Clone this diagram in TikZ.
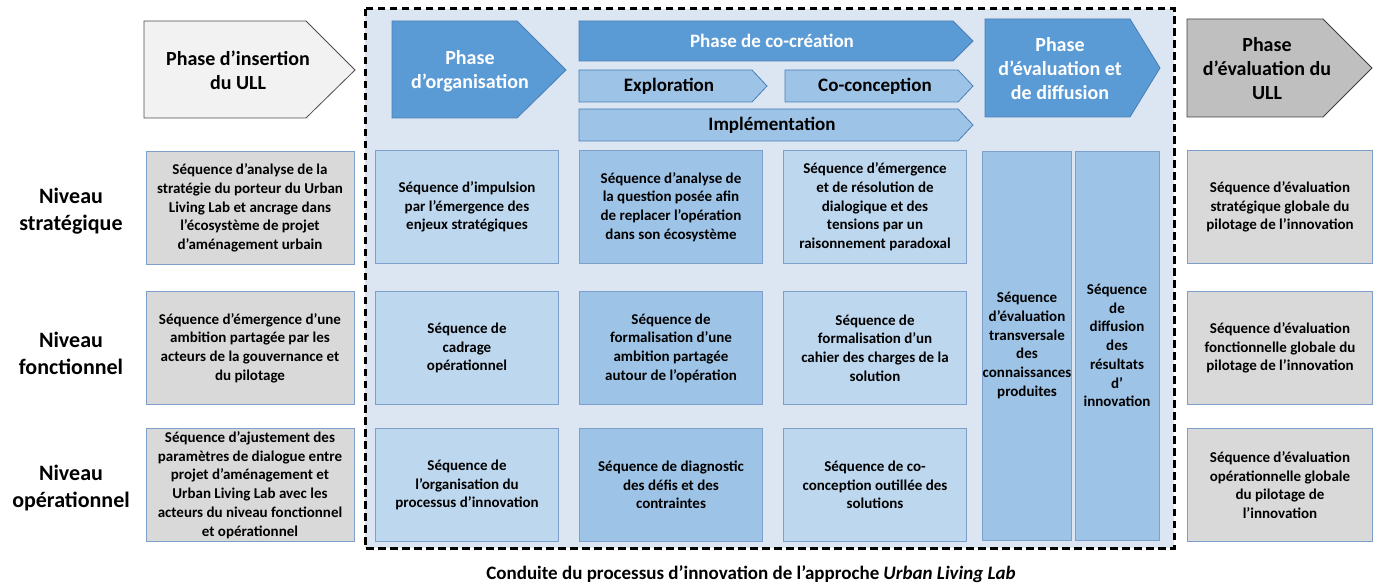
\documentclass[tikz,border=0pt]{standalone}
\usepackage{fontspec}
\setmainfont{Carlito}

\definecolor{phaseblue}{HTML}{5B9BD5}
\definecolor{phaseline}{HTML}{4A7EB5}
\definecolor{stageblue}{HTML}{9DC3E6}
\definecolor{seqlight}{HTML}{BDD7EE}
\definecolor{boxline}{HTML}{7F9FCB}
\definecolor{frameblue}{HTML}{DCE6F2}
\definecolor{ullgray}{HTML}{D9D9D9}
\definecolor{ullarrow}{HTML}{BFBFBF}
\definecolor{insertgray}{HTML}{F2F2F2}

\begin{document}
\begin{tikzpicture}[x=1pt,y=-1pt]
        \tikzset{
            seqbox/.style={draw=boxline,line width=0.8pt,fill=seqlight,align=center,inner sep=0pt,
                minimum width=183pt,minimum height=113pt,font=\bfseries\fontsize{15}{18.7}\selectfont},
            seqmid/.style={seqbox,fill=stageblue},
            tallbox/.style={seqbox,fill=stageblue,minimum width=84pt,minimum height=389pt},
            ullbox/.style={seqbox,fill=ullgray},
            niveau/.style={align=center,font=\bfseries\fontsize{22}{27}\selectfont},
            phasetext/.style={align=center,font=\bfseries\fontsize{20}{24}\selectfont},
            stagetext/.style={font=\bfseries\fontsize{19}{22}\selectfont}
        }
        \useasboundingbox (0,0) rectangle (1377,585);

        % cadre pointille de l'approche
        \draw[fill=frameblue,line width=3pt,dash pattern=on 7.5pt off 4.5pt] (365,9) rectangle (1174,548);

        % fleches de phases
        \draw[fill=insertgray,draw=black!70,line width=0.8pt]
            (144,21) -- (306,21) -- (355,70) -- (306,118) -- (144,118) -- cycle;
        \node[phasetext] (insertion) at (238,70) {Phase d’insertion\\du ULL};

        \draw[fill=phaseblue,draw=phaseline,line width=0.8pt]
            (392,21) -- (517,21) -- (566,70) -- (517,118) -- (392,118) -- cycle;
        \node[phasetext,text=white] (organisation) at (470,71) {Phase\\d’organisation};

        \draw[fill=phaseblue,draw=phaseline,line width=0.8pt]
            (579,21) -- (953,21) -- (973,41) -- (953,61) -- (579,61) -- cycle;
        \node[stagetext,text=white] (cocreation) at (772,41) {Phase de co-création};

        \draw[fill=stageblue,draw=phaseline,line width=0.8pt]
            (579,70) -- (752,70) -- (767,86) -- (752,102) -- (579,102) -- cycle;
        \node[stagetext] (exploration) at (669,86) {Exploration};

        \draw[fill=stageblue,draw=phaseline,line width=0.8pt]
            (785,70) -- (958,70) -- (973,86) -- (958,102) -- (785,102) -- cycle;
        \node[stagetext] (coconception) at (875,86) {Co-conception};

        \draw[fill=stageblue,draw=phaseline,line width=0.8pt]
            (579,109) -- (958,109) -- (973,125) -- (958,141) -- (579,141) -- cycle;
        \node[stagetext] (implementation) at (772,125) {Implémentation};

        \draw[fill=phaseblue,draw=phaseline,line width=0.8pt]
            (985,19) -- (1130,19) -- (1160,68) -- (1130,117) -- (985,117) -- cycle;
        \node[phasetext,text=white] (evaldiffusion) at (1060,69) {Phase\\d’évaluation et\\de diffusion};

        \draw[fill=ullarrow,draw=black!75,line width=0.8pt]
            (1187,19) -- (1323,19) -- (1372,68) -- (1323,117) -- (1187,117) -- cycle;
        \node[phasetext] (evalull) at (1267,69) {Phase\\d’évaluation du\\ULL};

        % niveaux
        \node[niveau] (strategique) at (71,211) {Niveau\\stratégique};
        \node[niveau] (fonctionnel) at (71,353) {Niveau\\fonctionnel};
        \node[niveau] (operationnel) at (71,488) {Niveau\\opérationnel};

        % phase d'insertion
        \node[ullbox,minimum width=208pt] (insstrat) at (250,208) {Séquence d’analyse de la\\stratégie du porteur du Urban\\Living Lab et ancrage dans\\l’écosystème de projet\\d’aménagement urbain};
        \node[ullbox,minimum width=208pt] (insfonc) at (250,348) {Séquence d’émergence d’une\\ambition partagée par les\\acteurs de la gouvernance et\\du pilotage};
        \node[ullbox,minimum width=208pt] (insop) at (250,485) {Séquence d’ajustement des\\paramètres de dialogue entre\\projet d’aménagement et\\Urban Living Lab avec les\\acteurs du niveau fonctionnel\\et opérationnel};

        % phase d'organisation
        \node[seqbox] (orgstrat) at (467,207) {Séquence d’impulsion\\par l’émergence des\\enjeux stratégiques};
        \node[seqbox] (orgfonc) at (467,348) {Séquence de\\cadrage\\opérationnel};
        \node[seqbox] (orgop) at (467,485) {Séquence de\\l’organisation du\\processus d’innovation};

        % exploration
        \node[seqmid] (expstrat) at (671,207) {Séquence d’analyse de\\la question posée afin\\de replacer l’opération\\dans son écosystème};
        \node[seqmid] (expfonc) at (671,348) {Séquence de\\formalisation d’une\\ambition partagée\\autour de l’opération};
        \node[seqmid] (expop) at (671,485) {Séquence de diagnostic\\des défis et des\\contraintes};

        % co-conception
        \node[seqbox] (concstrat) at (875,207) {Séquence d’émergence\\et de résolution de\\dialogique et des\\tensions par un\\raisonnement paradoxal};
        \node[seqbox] (concfonc) at (875,348) {Séquence de\\formalisation d’un\\cahier des charges de la\\solution};
        \node[seqbox] (concop) at (875,485) {Séquence de co-\\conception outillée des\\solutions};

        % evaluation et diffusion
        \node[tallbox] (transversale) at (1027,345.5) {Séquence\\d’évaluation\\transversale\\des\\connaissances\\produites};
        \node[tallbox] (diffusion) at (1117,345.5) {Séquence\\de\\diffusion\\des\\résultats\\d’\\innovation};

        % evaluation du ULL
        \node[ullbox,minimum width=185pt] (evalstrat) at (1280,207) {Séquence d’évaluation\\stratégique globale du\\pilotage de l’innovation};
        \node[ullbox,minimum width=185pt] (evalfonc) at (1280,348) {Séquence d’évaluation\\fonctionnelle globale du\\pilotage de l’innovation};
        \node[ullbox,minimum width=185pt] (evalop) at (1280,485) {Séquence d’évaluation\\opérationnelle globale\\du pilotage de\\l’innovation};

        \node[font=\bfseries\fontsize{19}{22}\selectfont] (legende) at (751,574)
            {Conduite du processus d’innovation de l’approche \textit{Urban Living Lab}};
    \end{tikzpicture}
\end{document}
